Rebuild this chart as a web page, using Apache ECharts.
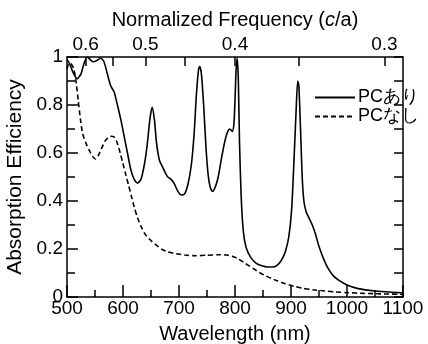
<!DOCTYPE html>
<html><head><meta charset="utf-8">
<script src="https://cdn.jsdelivr.net/npm/echarts@6/dist/echarts.min.js"></script>
<style>html,body{margin:0;padding:0;background:#fff}#c{width:428px;height:344px}</style>
</head><body><div id="c"></div>
<script>
// ---- data ----
const seriesNames = ['PCあり', 'PCなし'];
const wlWith = [500,505,510,518,525,530,536,541,547,553,560,566,572,578,584,590,596,602,608,614,620,626,632,638,643,648,652,656,660,665,670,675,680,686,692,698,704,710,716,722,727,731,735,737,740,744,748,752,756,760,765,770,776,782,787,791,795,798,800,802,804,806,808,811,815,820,828,838,848,858,866,874,882,890,896,901,905,909,912,914,917,920,923,927,932,938,944,950,958,966,975,985,1000,1020,1050,1080,1100];
const absWith = [0.99,0.97,0.94,0.91,0.93,0.97,1.00,0.99,0.98,0.985,0.995,0.98,0.93,0.88,0.855,0.80,0.74,0.67,0.60,0.53,0.49,0.475,0.49,0.55,0.63,0.74,0.79,0.74,0.64,0.57,0.545,0.52,0.50,0.49,0.47,0.44,0.425,0.43,0.47,0.55,0.68,0.84,0.95,0.96,0.93,0.80,0.63,0.51,0.455,0.44,0.46,0.50,0.58,0.65,0.69,0.70,0.69,0.72,0.82,0.95,0.995,0.90,0.65,0.42,0.27,0.205,0.165,0.14,0.13,0.125,0.125,0.13,0.15,0.19,0.25,0.36,0.55,0.77,0.90,0.88,0.70,0.50,0.40,0.355,0.33,0.30,0.26,0.21,0.16,0.12,0.09,0.07,0.05,0.035,0.025,0.02,0.018];
const wlWithout = [500,504,508,512,516,520,524,528,534,540,546,551,556,562,568,574,580,585,590,595,600,605,610,615,620,626,632,640,650,660,670,680,695,710,730,750,770,785,795,805,815,825,835,845,855,865,875,890,905,920,940,960,980,1000,1030,1060,1100];
const absWithout = [0.95,0.975,0.97,0.95,0.90,0.82,0.74,0.68,0.64,0.61,0.585,0.575,0.59,0.62,0.65,0.665,0.67,0.665,0.64,0.60,0.555,0.51,0.465,0.42,0.375,0.33,0.295,0.26,0.235,0.215,0.198,0.188,0.18,0.175,0.172,0.174,0.176,0.175,0.17,0.16,0.145,0.13,0.115,0.10,0.088,0.077,0.068,0.055,0.045,0.037,0.03,0.025,0.021,0.018,0.015,0.013,0.011];
const latticeA = 320; // nm, normalized frequency = a / wavelength
const freqTicks = [0.6,0.55,0.5,0.45,0.4,0.35,0.3];
const freqLabels = [0.6,0.5,0.4,0.3];

// ---- chart ----
const FONT = '"Liberation Sans", Arial, sans-serif';
const chart = echarts.init(document.getElementById('c'));
const lineCol = '#000';
const axLine = {show:true, onZero:false, lineStyle:{color:lineCol, width:1.5}};
chart.setOption({
  backgroundColor:'#fff',
  animation:false,
  textStyle:{fontFamily:FONT, color:'#000'},
  grid:{left:67, right:25, top:57, bottom:47, containLabel:false, outerBoundsMode:'none'},
  legend:{
    orient:'vertical', left:309, top:83, itemWidth:40, itemHeight:12, itemGap:0,
    itemStyle:{opacity:0},
    textStyle:{fontSize:18, lineHeight:19, color:'#000', fontFamily:FONT, padding:[0,0,0,-2]},
    data:seriesNames
  },
  xAxis:[
    {type:'value', min:500, max:1100, interval:100, position:'bottom',
     name:'Wavelength (nm)', nameLocation:'middle', nameGap:27,
     nameTextStyle:{fontSize:20, color:'#000', fontFamily:FONT},
     axisLine:axLine,
     axisTick:{inside:true, length:12, lineStyle:{color:lineCol, width:1.5}},
     minorTick:{show:true, splitNumber:2, length:7, lineStyle:{color:lineCol, width:1.5}},
     axisLabel:{fontSize:19, color:'#000', margin:2, fontFamily:FONT, showMinLabel:true, showMaxLabel:true,
       formatter:v=>String(v)},
     splitLine:{show:false}},
    {type:'value', min:500, max:1100, position:'top',
     name:'{n|Normalized Frequency (}{i|c}{n|/a)}', nameLocation:'middle', nameGap:15,
     nameTextStyle:{rich:{n:{fontSize:20, color:'#000', fontFamily:FONT}, i:{fontSize:20, color:'#000', fontStyle:'italic', fontFamily:FONT}}},
     axisLine:axLine,
     axisTick:{inside:true, length:9, customValues:freqTicks.map(f=>latticeA/f), lineStyle:{color:lineCol, width:1.5}},
     axisLabel:{fontSize:19, color:'#000', margin:3, fontFamily:FONT,
       customValues:freqLabels.map(f=>latticeA/f),
       formatter:v=>(latticeA/v).toFixed(1)},
     splitLine:{show:false}}
  ],
  yAxis:[
    {type:'value', min:0, max:1, interval:0.2, position:'left',
     name:'Absorption Efficiency', nameLocation:'middle', nameGap:28,
     nameTextStyle:{fontSize:21, color:'#000', fontFamily:FONT},
     axisLine:axLine,
     axisTick:{inside:true, length:11, lineStyle:{color:lineCol, width:1.5}},
     minorTick:{show:true, splitNumber:2, length:8, lineStyle:{color:lineCol, width:1.5}},
     axisLabel:{fontSize:19, color:'#000', margin:4, fontFamily:FONT},
     splitLine:{show:false}},
    {type:'value', min:0, max:1, interval:0.1, position:'right',
     axisLine:axLine,
     axisTick:{inside:true, length:9, lineStyle:{color:lineCol, width:1.5}},
     axisLabel:{show:false}, splitLine:{show:false}}
  ],
  series:[
    {name:seriesNames[0], type:'line', xAxisIndex:0, yAxisIndex:0, symbol:'none', smooth:0.25,
     lineStyle:{color:'#000', width:1.6, type:'solid'}, itemStyle:{color:'#000'},
     data:wlWith.map((w,i)=>[w, absWith[i]])},
    {name:seriesNames[1], type:'line', xAxisIndex:0, yAxisIndex:0, symbol:'none', smooth:0.25,
     lineStyle:{color:'#000', width:1.6, type:[5,3]}, itemStyle:{color:'#000'},
     data:wlWithout.map((w,i)=>[w, absWithout[i]])}
  ]
});
</script></body></html>
